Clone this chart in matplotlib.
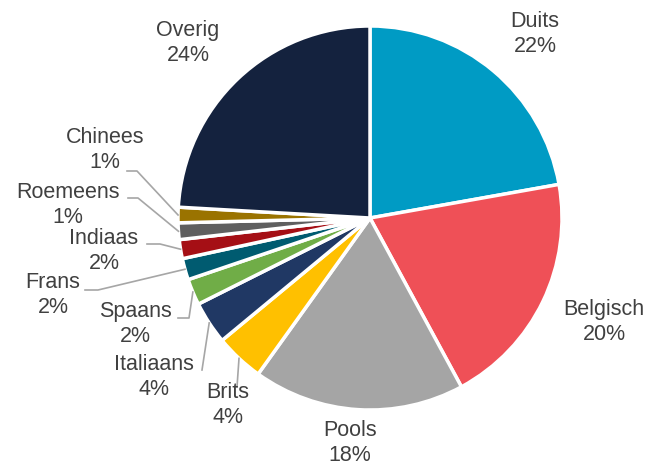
import numpy as np
import matplotlib.pyplot as plt

# aandeel per nationaliteit (%)
labels = ['Duits', 'Belgisch', 'Pools', 'Brits', 'Italiaans', 'Spaans',
          'Frans', 'Indiaas', 'Roemeens', 'Chinees', 'Overig']
shares = [22.2, 19.9, 17.8, 4.1, 3.6, 2.2, 1.8, 1.6, 1.4, 1.3, 24.1]
colors = ['#009BC4', '#EF5057', '#A5A5A5', '#FFC000', '#203864', '#70AD47',
          '#005B70', '#A50F15', '#5F5F5F', '#9A7300', '#14223E']

# layout in pixels (figure 646x466, pie centre at 370,218, radius 192)
CX, CY, R = 370, 218, 192
label_pos = {
    'Duits': (535, 34), 'Belgisch': (604, 322), 'Pools': (350, 443),
    'Brits': (228, 405), 'Italiaans': (154, 377), 'Spaans': (135, 324),
    'Frans': (53, 295), 'Indiaas': (104, 251), 'Roemeens': (68, 205),
    'Chinees': (105, 150), 'Overig': (188, 43),
}
# leader line: start near text, elbow
leaders = {
    'Chinees': [(127, 171), (137, 171)],
    'Roemeens': [(128, 198), (138, 198)],
    'Indiaas': [(147, 244), (160, 244)],
    'Frans': [(85, 290), (98, 290)],
    'Spaans': [(178, 318), (189, 318)],
    'Italiaans': [(202, 370), (202, 370)],
    'Brits': [(237, 387), (237, 387)],
}


def px2data(p):
    return (p[0] - CX) / R, (CY - p[1]) / R


plt.rcParams['font.family'] = ['Liberation Sans', 'DejaVu Sans']

fig = plt.figure(figsize=(6.46, 4.66), dpi=100)
ax = fig.add_axes([(CX - R) / 646, (466 - CY - R) / 466, 2 * R / 646, 2 * R / 466])
wedges, _ = ax.pie(shares, colors=colors, startangle=90, counterclock=False,
                   wedgeprops=dict(edgecolor='white', linewidth=2.5))
ax.set_xlim(-1, 1)
ax.set_ylim(-1, 1)
ax.axis('off')

for w, name, v in zip(wedges, labels, shares):
    x, y = px2data(label_pos[name])
    ax.text(x, y, f'{name}\n{round(v)}%', ha='center', va='center',
            fontsize=15.5, color='#404040', linespacing=1.2, clip_on=False)
    if name in leaders:
        ang = np.deg2rad((w.theta1 + w.theta2) / 2)
        pts = [px2data(p) for p in leaders[name]] + [(np.cos(ang), np.sin(ang))]
        xs, ys = zip(*pts)
        ax.plot(xs, ys, color='#A6A6A6', lw=1.2, clip_on=False)

fig.savefig('out.png', dpi=100)
